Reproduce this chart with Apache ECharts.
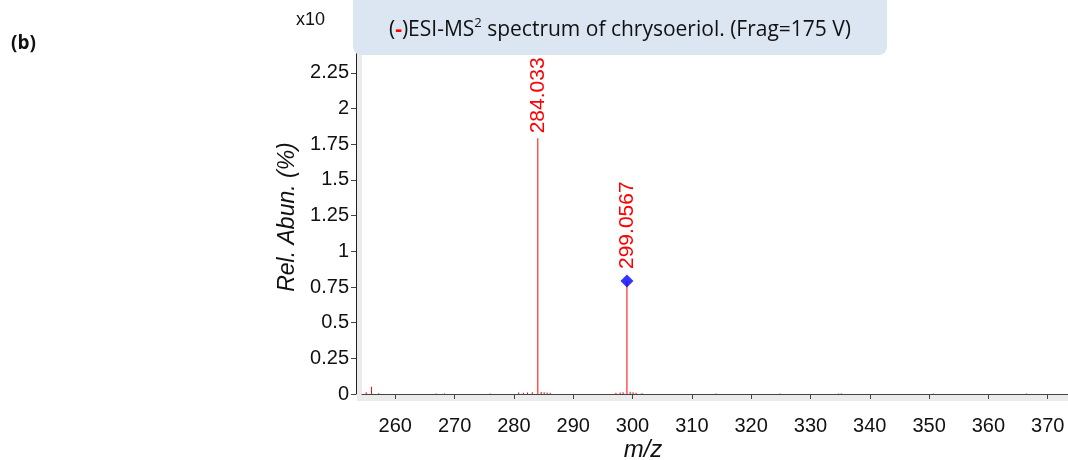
<!DOCTYPE html>
<html>
<head>
<meta charset="utf-8">
<script src="https://cdn.jsdelivr.net/npm/echarts@6/dist/echarts.min.js"></script>
<style>
  html, body { margin: 0; padding: 0; background: #fff; }
  #chart { width: 1068px; height: 460px; }
</style>
</head>
<body>
<div id="chart"></div>
<script>
// spectrum sticks: m/z and relative abundance (x10 %)
const mzValues = [255.1, 256.0, 257.2, 266.9, 268.3, 276.0, 280.8, 281.6, 282.3, 283.1,
  284.033, 284.6, 285.1, 285.6, 286.1, 297.2, 297.9, 298.4, 299.0567, 299.6,
  300.1, 300.6, 301.6, 314.1, 324.9, 334.7, 335.2, 350.7, 366.4];
const abundances = [0.012, 0.05, 0.006, 0.004, 0.004, 0.004, 0.01, 0.008, 0.01, 0.012,
  1.792, 0.014, 0.012, 0.01, 0.008, 0.008, 0.01, 0.012, 0.792, 0.016,
  0.012, 0.008, 0.006, 0.004, 0.004, 0.004, 0.004, 0.004, 0.004];
const labeledPeaks = [284.033, 299.0567];
const precursor = [[299.0567, 0.792]];

const xTicks = [260, 270, 280, 290, 300, 310, 320, 330, 340, 350, 360, 370];
const yTicks = [0, 0.25, 0.5, 0.75, 1, 1.25, 1.5, 1.75, 2, 2.25];

const RED = "#ff0000";
const chart = echarts.init(document.getElementById("chart"));

const stickData = mzValues.map((mz, i) => {
  const item = { value: [mz, abundances[i]] };
  if (labeledPeaks.includes(mz)) {
    item.label = {
      show: true,
      formatter: String(mz),
      distance: mz === 299.0567 ? 12 : 5,
    };
  }
  return item;
});

const option = {
  animation: false,
  grid: { left: 362, right: 0, top: 40, bottom: 66, outerBoundsMode: "none", containLabel: false },
  xAxis: {
    type: "value",
    min: 254.39,
    max: 373.42,
    offset: 7,
    axisLine: { lineStyle: { color: "#444", width: 1 } },
    axisTick: { customValues: xTicks, length: 5, lineStyle: { color: "#444" } },
    axisLabel: { customValues: xTicks, fontFamily: "Liberation Sans", fontSize: 20, color: "#111", margin: 15 },
    splitLine: { show: false },
  },
  yAxis: {
    type: "value",
    min: 0,
    max: 2.481,
    offset: 6,
    name: "Rel. Abun. (%)",
    nameLocation: "middle",
    nameGap: 57,
    nameTextStyle: { fontFamily: "Liberation Sans", fontStyle: "italic", fontSize: 23, color: "#111" },
    axisLine: { show: true, lineStyle: { color: "#222", width: 1 } },
    axisTick: { show: true, customValues: yTicks, length: 5, lineStyle: { color: "#444" } },
    axisLabel: { customValues: yTicks, fontFamily: "Liberation Sans", fontSize: 20, color: "#111", margin: 7 },
    splitLine: { show: false },
  },
  graphic: [
    // light grey frame strips along the plot's left and bottom edges
    { type: "rect", shape: { x: 357, y: 40, width: 5, height: 360 }, style: { fill: "#ebebeb" }, z: 0 },
    { type: "rect", shape: { x: 357, y: 395, width: 711, height: 6 }, style: { fill: "#ebebeb" }, z: 0 },
    // title banner
    {
      type: "rect",
      shape: { x: 353, y: -10, width: 534, height: 65, r: 8 },
      style: { fill: "#dce6f2" },
      z: 100,
    },
    {
      type: "text",
      x: 620, y: 30, z: 101,
      style: {
        text: "{t|(}{r|-}{t|)ESI-MS}{s|2}{t| spectrum of chrysoeriol. (Frag=175 V)}",
        rich: {
          r: { fill: RED, fontFamily: "Open Sans", fontSize: 21, fontWeight: "bold" },
          t: { fill: "#111", fontFamily: "Open Sans", fontSize: 21 },
          s: { fill: "#111", fontFamily: "Open Sans", fontSize: 13, verticalAlign: "bottom", padding: [0, 0, 13, 0] },
        },
        align: "center",
        verticalAlign: "middle",
      },
    },
    {
      type: "text", x: 296, y: 20, z: 101,
      style: { text: "x10", font: "18px 'Liberation Sans'", fill: "#111", verticalAlign: "middle" },
    },
    {
      type: "text", x: 11, y: 44, z: 101,
      style: { text: "(b)", font: "bold 19px 'Open Sans'", fill: "#111", verticalAlign: "middle" },
    },
    // x-axis title, placed as in the original figure
    {
      type: "text", x: 643, y: 450, z: 101,
      style: { text: "m/z", font: "italic 24px 'Liberation Sans'", fill: "#111", align: "center", verticalAlign: "middle" },
    },
  ],
  series: [
    {
      name: "spectrum",
      type: "bar",
      barWidth: 1,
      itemStyle: { color: RED },
      label: {
        show: false,
        position: "top",
        rotate: 90,
        align: "left",
        verticalAlign: "middle",
        color: RED,
        fontFamily: "Liberation Sans",
        fontSize: 21,
      },
      data: stickData,
      z: 3,
    },
    {
      name: "precursor",
      type: "scatter",
      symbol: "diamond",
      symbolSize: 13,
      itemStyle: { color: "#0000ff" },
      data: precursor,
      z: 4,
    },
  ],
};

chart.setOption(option);
</script>
</body>
</html>
